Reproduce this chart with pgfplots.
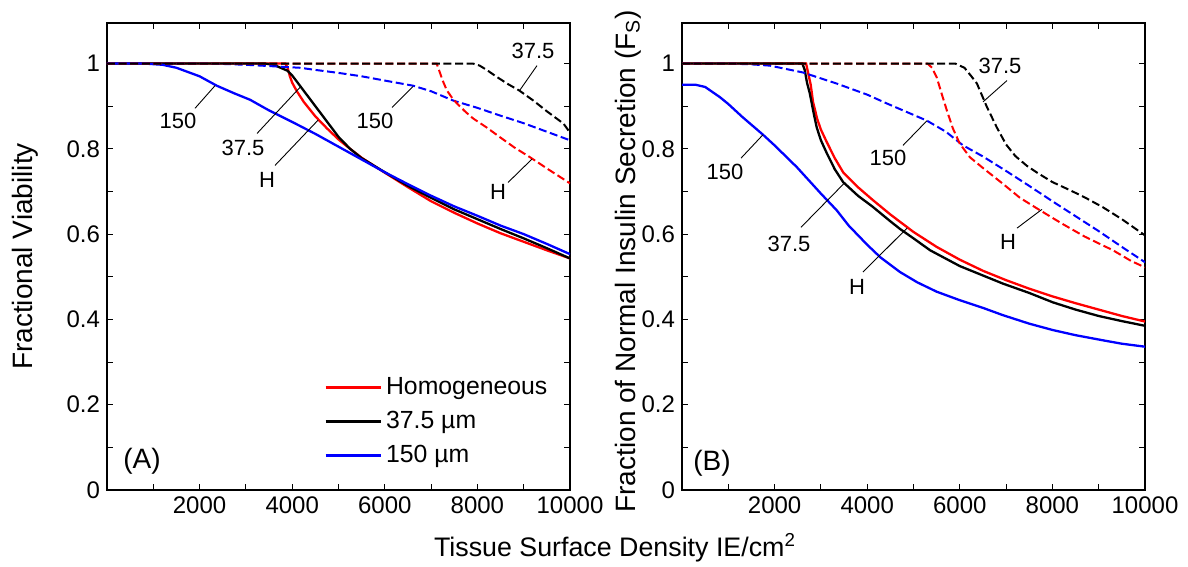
\documentclass[border=0pt]{standalone}
\usepackage{fontspec}
\setmainfont{Liberation Sans}
\usepackage{pgfplots}
\pgfplotsset{compat=1.18}

\definecolor{pred}{RGB}{255,0,0}
\definecolor{pblue}{RGB}{0,0,255}

\pgfplotsset{
  panel/.style={
    scale only axis, width=231.5pt, height=233.5pt,
    xmin=0, xmax=10000, ymin=0, ymax=1.095,
    scaled x ticks=false, scaled y ticks=false,
    xtick={2000,4000,6000,8000,10000},
    xticklabels={2000,4000,6000,8000,10000},
    minor xtick={1000,3000,5000,7000,9000},
    ytick={0,0.2,0.4,0.6,0.8,1},
    yticklabels={0,0.2,0.4,0.6,0.8,1},
    minor ytick={0.1,0.3,0.5,0.7,0.9},
    tick align=inside, major tick length=3pt, minor tick length=3pt,
    tick style={black, line width=0.5pt},
    axis line style={line width=0.8pt},
    tick label style={font=\fontsize{12}{14}\selectfont},
    ylabel style={font=\fontsize{14}{16}\selectfont, anchor=center},
  },
}
\tikzset{
  solidc/.style={line width=1.15pt},
  dashc/.style={line width=1pt, dash pattern=on 4pt off 1.8pt},
  note/.style={font=\fontsize{11}{13}\selectfont, inner sep=0pt},
  leader/.style={line width=0.45pt, black},
}

\begin{document}
\begin{tikzpicture}[x=1pt,y=1pt]
\useasboundingbox (-53.5pt,-38.5pt) rectangle (540.5pt,245pt);

% ---------------- (A) fractional viability ----------------
\begin{axis}[panel, at={(0pt,0pt)}, anchor=south west,
  ylabel={Fractional Viability},
  ylabel style={at={(axis description cs:-0.177,0.5)}},
  legend style={draw=none, fill=none, at={(axis description cs:0.468,0.251)},
    anchor=north west, font=\fontsize{12.4}{14}\selectfont,
    row sep=2.9pt, inner sep=0pt},
  legend cell align=left,
  legend image code/.code={\draw[#1, line width=1.5pt] (0pt,0pt) -- (27.5pt,0pt);},
]
% solid curves
\addplot[pred, solidc] coordinates {
(0,1) (3850,1) (3900,0.99) (3950,0.97) (4000,0.955) (4100,0.935) (4250,0.91)
(4500,0.876) (4750,0.848) (5000,0.822) (5250,0.8) (5500,0.779) (6000,0.744)
(6500,0.71) (7000,0.677) (7500,0.65) (8000,0.625) (8500,0.602) (9000,0.582)
(9500,0.562) (10000,0.543)};
\addlegendentry{Homogeneous}
\addplot[black, solidc] coordinates {
(0,1) (3400,1) (3600,0.997) (3750,0.99) (3900,0.983) (4000,0.972) (4250,0.936)
(4500,0.9) (4750,0.864) (5000,0.828) (5250,0.8) (5500,0.778) (6000,0.745)
(6500,0.713) (7000,0.685) (7500,0.658) (8000,0.635) (8500,0.612) (9000,0.59)
(9500,0.567) (10000,0.543)};
\addlegendentry{37.5 µm}
\addplot[pblue, solidc] coordinates {
(0,1) (800,1) (1200,0.997) (1500,0.99) (2000,0.97) (2370,0.948) (2750,0.93)
(3090,0.915) (3500,0.89) (4000,0.863) (4500,0.835) (5000,0.805) (5500,0.775)
(6000,0.745) (6500,0.717) (7000,0.69) (7500,0.665) (8000,0.643) (8500,0.62)
(9000,0.6) (9500,0.577) (10000,0.553)};
\addlegendentry{150 µm}
% dashed curves
\addplot[pblue, dashc, forget plot] coordinates {
(0,1) (2000,1) (2500,0.999) (3000,0.997) (3500,0.994) (4170,0.99) (4500,0.985)
(5000,0.978) (5500,0.97) (6000,0.96) (6610,0.948) (7000,0.935) (7480,0.913)
(8000,0.896) (8490,0.878) (9000,0.86) (9500,0.84) (10000,0.82)};
\addplot[pred, dashc, forget plot] coordinates {
(0,1) (7120,1) (7170,0.985) (7250,0.96) (7340,0.937) (7450,0.92) (7560,0.906)
(7750,0.886) (7910,0.871) (8200,0.85) (8490,0.827) (8800,0.803) (9140,0.78)
(9500,0.754) (9800,0.733) (10000,0.719)};
\addplot[black, dashc, forget plot] coordinates {
(0,1) (7900,1) (8050,0.995) (8200,0.985) (8400,0.97) (8640,0.953) (8900,0.937)
(9210,0.913) (9500,0.888) (9860,0.859) (10000,0.838)};
% curve labels
\draw[leader] (axis cs:1901,0.895) -- (axis cs:2333,0.948);
\node[note] at (axis cs:1533,0.866) {150};
\draw[leader] (axis cs:3240,0.836) -- (axis cs:4168,0.944);
\node[note] at (axis cs:2937,0.803) {37.5};
\draw[leader] (axis cs:3628,0.761) -- (axis cs:4557,0.867);
\node[note] at (axis cs:3456,0.726) {H};
\draw[leader] (axis cs:6155,0.897) -- (axis cs:6609,0.946);
\node[note] at (axis cs:5788,0.866) {150};
\draw[leader] (axis cs:9287,0.995) -- (axis cs:8920,0.938);
\node[note] at (axis cs:9201,1.030) {37.5};
\draw[leader] (axis cs:8661,0.721) -- (axis cs:9179,0.776);
\node[note] at (axis cs:8445,0.698) {H};
\node[font=\fontsize{14}{16}\selectfont, inner sep=0pt] at (axis cs:756,0.068) {(A)};
\end{axis}

% ---------------- (B) insulin secretion ----------------
\begin{axis}[panel, at={(287.5pt,0pt)}, anchor=south west,
  ylabel={Fraction of Normal Insulin Secretion (F\textsubscript{S})},
  ylabel style={at={(axis description cs:-0.1166,0.49)}},
]
\addplot[pred, solidc] coordinates {
(0,1) (2680,1) (2720,0.98) (2780,0.95) (2830,0.91) (2920,0.87) (3000,0.845)
(3130,0.815) (3300,0.778) (3480,0.745) (3800,0.71) (4120,0.68) (4500,0.646)
(5000,0.605) (5500,0.57) (6000,0.54) (6500,0.514) (7000,0.492) (7500,0.472)
(8000,0.454) (8500,0.438) (9000,0.423) (9500,0.408) (10000,0.395)};
\addplot[black, solidc] coordinates {
(0,1) (2600,1) (2650,0.985) (2700,0.955) (2760,0.93) (2850,0.88) (2910,0.85)
(3000,0.82) (3130,0.789) (3300,0.752) (3480,0.722) (3800,0.69) (4120,0.664)
(4500,0.63) (4710,0.612) (5000,0.59) (5360,0.562) (6000,0.525) (6930,0.484)
(7500,0.462) (8010,0.44) (8500,0.423) (9000,0.408) (9500,0.396) (10000,0.385)};
\addplot[pblue, solidc] coordinates {
(0,0.95) (300,0.95) (500,0.945) (820,0.921) (1000,0.905) (1300,0.875)
(1750,0.833) (2000,0.808) (2480,0.757) (3000,0.695) (3340,0.656) (3600,0.62)
(4000,0.575) (4280,0.546) (4710,0.511) (5080,0.487) (5500,0.465) (6000,0.445)
(6500,0.427) (6930,0.41) (7500,0.39) (8010,0.375) (8500,0.363) (9090,0.351)
(9500,0.343) (10000,0.336)};
\addplot[pblue, dashc] coordinates {
(0,1) (1000,1) (1500,0.998) (1900,0.995) (2610,0.979) (3340,0.953) (4000,0.927)
(4430,0.906) (5290,0.866) (5700,0.84) (6070,0.808) (6500,0.782) (7000,0.748)
(7500,0.713) (8000,0.677) (8500,0.642) (9000,0.607) (9500,0.57) (10000,0.534)};
\addplot[pred, dashc] coordinates {
(0,1) (5300,1) (5400,0.99) (5500,0.968) (5620,0.925) (5720,0.89) (5850,0.848)
(6000,0.812) (6220,0.78) (6500,0.755) (6930,0.718) (7300,0.685) (7730,0.656)
(8200,0.625) (8700,0.594) (9310,0.562) (9700,0.537) (10000,0.522)};
\addplot[black, dashc] coordinates {
(0,1) (5900,1) (6100,0.99) (6250,0.97) (6370,0.953) (6480,0.925) (6590,0.897)
(6800,0.85) (7000,0.81) (7200,0.783) (7450,0.76) (7670,0.744) (8000,0.722)
(8380,0.703) (8700,0.686) (9090,0.663) (9500,0.635) (10000,0.597)};
% curve labels
\draw[leader] (axis cs:1274,0.778) -- (axis cs:1749,0.833);
\node[note] at (axis cs:929,0.745) {150};
\draw[leader] (axis cs:2570,0.616) -- (axis cs:3520,0.721);
\node[note] at (axis cs:2311,0.576) {37.5};
\draw[leader] (axis cs:3909,0.511) -- (axis cs:4860,0.614);
\node[note] at (axis cs:3780,0.475) {H};
\draw[leader] (axis cs:4773,0.808) -- (axis cs:5292,0.866);
\node[note] at (axis cs:4449,0.778) {150};
\draw[leader] (axis cs:7019,0.960) -- (axis cs:6501,0.91);
\node[note] at (axis cs:6868,0.995) {37.5};
\draw[leader] (axis cs:7235,0.614) -- (axis cs:7775,0.658);
\node[note] at (axis cs:7041,0.581) {H};
\node[font=\fontsize{14}{16}\selectfont, inner sep=0pt] at (axis cs:648,0.063) {(B)};
\end{axis}

\node[font=\fontsize{13.4}{16}\selectfont] at (254pt,-29pt) {Tissue Surface Density IE/cm\textsuperscript{2}};
\end{tikzpicture}
\end{document}
